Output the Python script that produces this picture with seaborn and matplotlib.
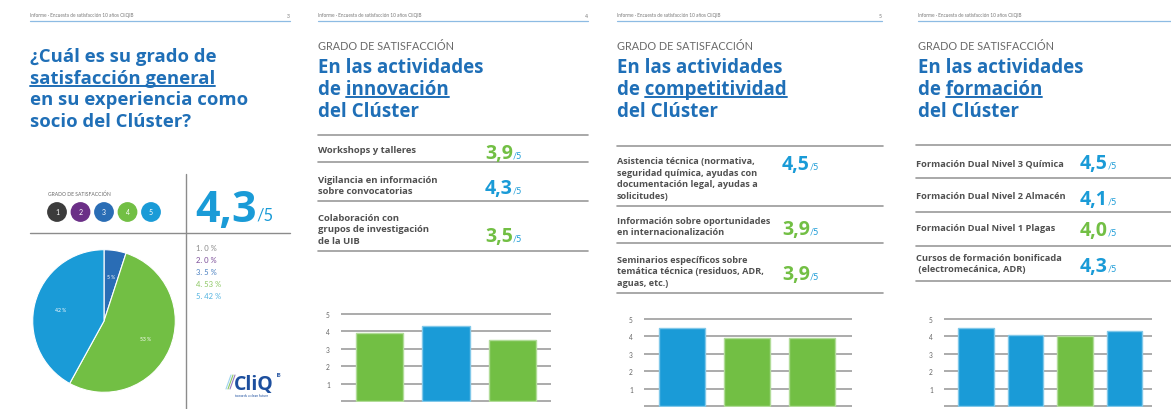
import matplotlib
matplotlib.use("Agg")
import matplotlib.pyplot as plt
import seaborn as sns
import pandas as pd

W, H, DPI = 1171, 410, 100

BLUE_DARK = "#1f6fb7"
BLUE = "#1a9bd7"
GREEN = "#72bf44"
LABEL_GRAY = "#505050"
LINE_GRAY = "#9a9a9a"
BOLD_FONT = ["Open Sans", "DejaVu Sans"]

header_text = "Informe · Encuesta de satisfacción 10 años CliQIB"
page_numbers = ["3", "4", "5", ""]

# page 1: general satisfaction
grades = ["1", "2", "3", "4", "5"]
grade_pct = [0, 0, 5, 53, 42]
grade_colors = ["#3c3c3c", "#6b2f87", "#2a6db5", "#72bf44", "#1a9bd7"]
legend_colors = ["#8a8a8a", "#7b4c98", "#4b80c1", "#8cc763", "#52b3e0"]
general_score = 4.3
general_title = ["¿Cuál es su grado de", "satisfacción general",
                 "en su experiencia como", "socio del Clúster?"]

# pages 2-4: activities
innovation_title = ["En las actividades", "de innovación", "del Clúster"]
innovation_items = [
    "Workshops y talleres",
    "Vigilancia en información\nsobre convocatorias",
    "Colaboración con\ngrupos de investigación\nde la UIB",
]
innovation_scores = [3.9, 4.3, 3.5]

competitiveness_title = ["En las actividades", "de competitividad", "del Clúster"]
competitiveness_items = [
    "Asistencia técnica (normativa,\nseguridad química, ayudas con\n"
    "documentación legal, ayudas a\nsolicitudes)",
    "Información sobre oportunidades\nen internacionalización",
    "Seminarios específicos sobre\ntemática técnica (residuos, ADR,\naguas, etc.)",
]
competitiveness_scores = [4.5, 3.9, 3.9]

training_title = ["En las actividades", "de formación", "del Clúster"]
training_items = [
    "Formación Dual Nivel 3 Química",
    "Formación Dual Nivel 2 Almacén",
    "Formación Dual Nivel 1 Plagas",
    "Cursos de formación bonificada\n (electromecánica, ADR)",
]
training_scores = [4.5, 4.1, 4.0, 4.3]

sns.set_style("white")
plt.rcParams["font.family"] = ["Lato", "DejaVu Sans"]

fig = plt.figure(figsize=(W / DPI, H / DPI), dpi=DPI)
bg = fig.add_axes([0, 0, 1, 1])
bg.set_xlim(0, W)
bg.set_ylim(H, 0)
bg.axis("off")
renderer = fig.canvas.get_renderer()


def fmt(v):
    return f"{v:.1f}".replace(".", ",")


def score_color(v):
    return BLUE if v > 4.0 else GREEN


def lighten(c, f=0.45):
    r, g, b = matplotlib.colors.to_rgb(c)
    return (r + (1 - r) * f, g + (1 - g) * f, b + (1 - b) * f)


def text_width(t):
    bb = t.get_window_extent(renderer)
    inv = bg.transData.inverted()
    (x0, _), (x1, _) = inv.transform([(bb.x0, 0), (bb.x1, 0)])
    return x0, x1


def header(x0, x1, num):
    bg.text(x0, 16, header_text, fontsize=3.4, color="#777777", va="center")
    if num:
        bg.text(x1, 16, num, fontsize=3.6, color="#777777", va="center", ha="right")
    bg.plot([x0, x1], [22, 22], color="#8dbbe3", lw=0.9)


def title(x, baselines, lines, word, size, ul_off=3):
    for y, line in zip(baselines, lines):
        t = bg.text(x, y, line, fontsize=size, fontweight="bold", family=BOLD_FONT,
                    color=BLUE_DARK, va="baseline")
        if word and word in line:
            _, xe = text_width(t)
            tmp = bg.text(0, 0, word, fontsize=size, fontweight="bold", family=BOLD_FONT)
            w0, w1 = text_width(tmp)
            tmp.remove()
            bg.plot([xe - (w1 - w0), xe], [y + ul_off] * 2, color=BLUE_DARK, lw=1.4)


def score_text(x, y, v, size, sub_size, color=None):
    t = bg.text(x, y, fmt(v), fontsize=size, fontweight="bold", family=BOLD_FONT,
                color=color or score_color(v), va="baseline")
    _, xe = text_width(t)
    bg.text(xe, y, "/5", fontsize=sub_size, color=BLUE, va="baseline")


def bar_panel(x0, x1, y_zero, y_five, scores, xlim, tick_pad):
    unit = (y_zero - y_five) / 5
    pad = 0.06
    bot = y_zero + pad * unit
    top = y_five - pad * unit
    ax = fig.add_axes([x0 / W, 1 - bot / H, (x1 - x0) / W, (bot - top) / H])
    ax.patch.set_alpha(0)
    df = pd.DataFrame({"item": [str(i) for i in range(len(scores))], "score": scores})
    colors = [score_color(s) for s in scores]
    sns.barplot(data=df, x="item", y="score", hue="item", palette=colors,
                saturation=1, legend=False, width=0.72, ax=ax, zorder=3, linewidth=1)
    for p, c in zip(ax.patches, colors):
        p.set_edgecolor(lighten(c))
    ax.set_ylim(-pad, 5 + pad)
    ax.set_xlim(*xlim)
    ax.set_yticks(range(6))
    ax.set_yticklabels([""] + [str(i) for i in range(1, 6)])
    ax.yaxis.grid(True, color="#a5a5a5", lw=1.3)
    ax.set_axisbelow(True)
    ax.tick_params(axis="y", length=0, pad=tick_pad, labelsize=4.8, labelcolor="#666666")
    ax.set_xticks([])
    ax.set_xlabel("")
    ax.set_ylabel("")
    sns.despine(ax=ax, left=True, bottom=True)


# ---------------- page 1 ----------------
header(30, 290, page_numbers[0])
title(30, [62, 84, 105, 127], general_title, "satisfacción general", 13.3)

bg.plot([186, 186], [175, 410], color="#8c8c8c", lw=1)
bg.plot([30, 290], [234, 234], color="#8c8c8c", lw=1)
bg.text(48, 194, "GRADO DE SATISFACCIÓN", fontsize=3.6, color="#666666", va="center")
bg.scatter([57 + 23.5 * i for i in range(5)], [213] * 5, s=175, c=grade_colors, zorder=3)
for i, g in enumerate(grades):
    bg.text(57 + 23.5 * i, 213, g, fontsize=5, color="white", ha="center", va="center", zorder=4)

t = bg.text(195, 222, fmt(general_score), fontsize=31, fontweight="bold", family=BOLD_FONT,
            color=BLUE, va="baseline")
_, xe = text_width(t)
bg.text(xe, 221, "/5", fontsize=12, color=BLUE, va="baseline")

for i, (g, p) in enumerate(zip(grades, grade_pct)):
    bg.text(196, 249 + 12 * i, f"{g}. {p} %", fontsize=5.5, color=legend_colors[i], va="center")

pie_ax = fig.add_axes([32 / W, 1 - 394 / H, 144 / W, 144 / H])
vals = [p for p in grade_pct if p > 0]
cols = [c for p, c in zip(grade_pct, grade_colors) if p > 0]
pie_ax.pie(vals, colors=cols, startangle=90, counterclock=False,
           wedgeprops=dict(edgecolor="white", linewidth=0.8),
           autopct=lambda v: f"{v:.0f} %", pctdistance=0.63,
           textprops=dict(color="white", fontsize=3.6))
pie_ax.set_xlim(-1.01, 1.01)
pie_ax.set_ylim(-1.01, 1.01)
pie_ax.set_aspect("equal")

# logo
for k, c in enumerate(["#9fd3ef", "#8cc763", "#9b7cc0"]):
    bg.plot([226 + 2 * k, 231 + 2 * k], [390, 376], color=c, lw=0.8)
bg.text(234, 390, "CliQ", fontsize=14, fontweight="bold", family=BOLD_FONT,
        color="#1d4f9e", va="baseline")
bg.text(277, 377, "IB", fontsize=3.5, fontweight="bold", color="#1d4f9e", va="baseline")
bg.text(235, 397, "towards a clean future", fontsize=2.4, color="#1d4f9e", va="baseline")

# ---------------- pages 2-4 ----------------
pages = [
    dict(num=page_numbers[1], hx=(318, 588), title=innovation_title, word="innovación",
         items=innovation_items, scores=innovation_scores, label_size=6.8,
         label_x=318, value_x=485, rule_x=(318, 588), rules=[136, 163, 202, 252],
         label_y=[151, 186, 230], value_y=[152, 187, 235],
         bars=(341, 551, 402, 315), xlim=(-0.58, 2.58)),
    dict(num=page_numbers[2], hx=(617, 882), title=competitiveness_title, word="competitividad",
         items=competitiveness_items, scores=competitiveness_scores, label_size=6.6,
         label_x=617, value_x=782, rule_x=(617, 883), rules=[147, 207, 244, 294],
         label_y=[179, 227, 272], value_y=[163, 228, 273],
         bars=(644, 852, 407, 320), xlim=(-0.585, 2.615)),
    dict(num=page_numbers[3], hx=(918, 1171), title=training_title, word="formación",
         items=training_items, scores=training_scores, label_size=6.7,
         label_x=916, value_x=1080, rule_x=(916, 1171), rules=[146, 179, 213, 247, 282],
         label_y=[164, 197, 229, 264], value_y=[162, 198, 229, 265],
         bars=(944, 1152, 407, 320), xlim=(-0.65, 3.56)),
]

for pg in pages:
    x0 = pg["hx"][0]
    header(pg["hx"][0], pg["hx"][1], pg["num"])
    bg.text(x0, 50, "GRADO DE SATISFACCIÓN", fontsize=7.8, color="#6a6a6a", va="baseline")
    title(x0, [73, 95, 117], pg["title"], pg["word"], 13.5)
    for y in pg["rules"]:
        bg.plot(pg["rule_x"], [y, y], color=LINE_GRAY, lw=1.2)
    for item, s, ly, vy in zip(pg["items"], pg["scores"], pg["label_y"], pg["value_y"]):
        bg.text(pg["label_x"], ly, item, fontsize=pg["label_size"], fontweight="bold",
                family=BOLD_FONT, color=LABEL_GRAY, va="center", linespacing=1.35)
        score_text(pg["value_x"], vy + 7, s, 14, 6.5)
    bx0, bx1, yz, yf = pg["bars"]
    bar_panel(bx0, bx1, yz, yf, pg["scores"], pg["xlim"], 8)

fig.savefig("out.png", dpi=DPI)
